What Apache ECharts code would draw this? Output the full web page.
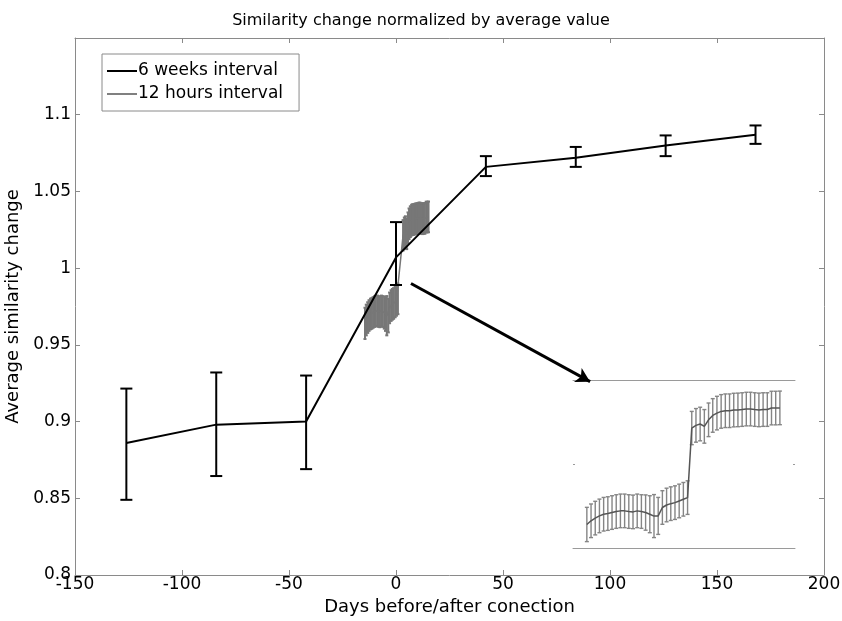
<!DOCTYPE html>
<html>
<head>
<meta charset="utf-8">
<script src="https://cdn.jsdelivr.net/npm/echarts@6/dist/echarts.min.js"></script>
<style>
html,body{margin:0;padding:0;background:#fff;}
#chart{width:842px;height:621px;}
</style>
</head>
<body>
<div id="chart"></div>
<script>
// ---- data ----
var titleText = 'Similarity change normalized by average value';
var xAxisName = 'Days before/after conection';
var yAxisName = 'Average similarity change';
var seriesNames = ['6 weeks interval', '12 hours interval'];

// 6 weeks interval
var weeksDays = [-126, -84, -42, 0, 42, 84, 126, 168];
var weeksMean = [0.886, 0.898, 0.900, 1.007, 1.066, 1.072, 1.080, 1.087];
var weeksLow  = [0.849, 0.8645, 0.869, 0.989, 1.060, 1.066, 1.073, 1.081];
var weeksHigh = [0.9215, 0.932, 0.930, 1.030, 1.073, 1.079, 1.0865, 1.093];

// 12 hours interval
var hoursDays = [-14.5, -13.9, -13.2, -12.6, -11.9, -11.3, -10.7, -10.0, -9.4, -8.7,
                 -8.1, -7.5, -6.8, -6.2, -5.5, -4.9, -4.3, -3.6, -3.0, -2.3,
                 -1.7, -1.1, -0.4, 0.2, 0.9,
                 3.3, 3.9, 4.4, 5.0, 5.6, 6.1, 6.7, 7.3, 7.8, 8.4,
                 9.0, 9.5, 10.1, 10.7, 11.2, 11.8, 12.4, 12.9, 13.5, 14.1,
                 14.6, 15.2];
var hoursMean = [0.9640, 0.9662, 0.9678, 0.9691, 0.9701, 0.9705, 0.9711, 0.9717, 0.9721, 0.9721,
                 0.9717, 0.9715, 0.9721, 0.9717, 0.9711, 0.9701, 0.9690, 0.9691, 0.9741, 0.9756,
                 0.9764, 0.9770, 0.9780, 0.9790, 0.9800,
                 1.0214, 1.0230, 1.0238, 1.0224, 1.0263, 1.0289, 1.0303, 1.0313, 1.0317, 1.0317,
                 1.0321, 1.0322, 1.0324, 1.0327, 1.0327, 1.0324, 1.0322, 1.0324, 1.0324, 1.0333,
                 1.0333, 1.0334];
var hoursErr  = [0.0102, 0.0100, 0.0100, 0.0100, 0.0100, 0.0100, 0.0100, 0.0100, 0.0100, 0.0100,
                 0.0100, 0.0100, 0.0100, 0.0100, 0.0105, 0.0110, 0.0128, 0.0110, 0.0100, 0.0100,
                 0.0100, 0.0100, 0.0100, 0.0100, 0.0100,
                 0.0099, 0.0100, 0.0100, 0.0100, 0.0100, 0.0100, 0.0100, 0.0100, 0.0100, 0.0100,
                 0.0100, 0.0100, 0.0100, 0.0100, 0.0100, 0.0100, 0.0100, 0.0100, 0.0100, 0.0100,
                 0.0100, 0.0100];

// axis ticks
var xMin = -150, xMax = 200, xStep = 50;
var yMin = 0.8, yMax = 1.15, yStep = 0.05;
var yLabelMax = 1.1;

// ---- build ----
var FONT = '"DejaVu Sans", "Liberation Sans", Arial, sans-serif';
var AX = '#8a8a8a';

var weeksLine = weeksDays.map(function (d, i) { return [d, weeksMean[i]]; });
var weeksBars = weeksDays.map(function (d, i) { return [d, weeksLow[i], weeksHigh[i]]; });
var hoursLine = hoursDays.map(function (d, i) { return [d, hoursMean[i]]; });
var hoursBars = hoursDays.map(function (d, i) { return [d, hoursMean[i] - hoursErr[i], hoursMean[i] + hoursErr[i]]; });
var insetLine = hoursMean.map(function (m, i) { return [i, m]; });
var insetBars = hoursMean.map(function (m, i) { return [i, m - hoursErr[i], m + hoursErr[i]]; });

function errRender(cap, color, lw) {
  return function (params, api) {
    var x = api.value(0);
    var a = api.coord([x, api.value(1)]);
    var b = api.coord([x, api.value(2)]);
    var st = { stroke: color, lineWidth: lw };
    return {
      type: 'group',
      children: [
        { type: 'line', shape: { x1: a[0], y1: a[1], x2: b[0], y2: b[1] }, style: st },
        { type: 'line', shape: { x1: a[0] - cap, y1: a[1], x2: a[0] + cap, y2: a[1] }, style: st },
        { type: 'line', shape: { x1: b[0] - cap, y1: b[1], x2: b[0] + cap, y2: b[1] }, style: st }
      ]
    };
  };
}

function yFmt(v) {
  if (v > yLabelMax + 1e-6) return '';
  return String(parseFloat(v.toFixed(3)));
}

var mainX = {
  type: 'value', gridIndex: 0, min: xMin, max: xMax, interval: xStep,
  axisLine: { show: true, onZero: false, lineStyle: { color: AX, width: 1 } },
  axisTick: { show: true, inside: true, length: 5, lineStyle: { color: AX } },
  splitLine: { show: false }
};
var mainY = {
  type: 'value', gridIndex: 0, min: yMin, max: yMax, interval: yStep,
  axisLine: { show: true, onZero: false, lineStyle: { color: AX, width: 1 } },
  axisTick: { show: true, inside: true, length: 5, lineStyle: { color: AX } },
  splitLine: { show: false }
};

var option = {
  animation: false,
  backgroundColor: '#ffffff',
  title: {
    text: titleText, left: 'center', top: 8,
    textStyle: { fontFamily: FONT, fontSize: 16, fontWeight: 'normal', color: '#000' }
  },
  legend: {
    data: [{ name: seriesNames[0], icon: 'rect' }, { name: seriesNames[1], icon: 'rect' }],
    orient: 'vertical',
    left: 102, top: 54,
    padding: [7, 16, 7, 5],
    itemGap: 3,
    itemWidth: 30, itemHeight: 2,
    borderColor: AX, borderWidth: 1,
    backgroundColor: '#fff',
    textStyle: { fontFamily: FONT, fontSize: 17, lineHeight: 20, color: '#000', padding: [0, 0, 0, -4] }
  },
  grid: [
    { left: 75, top: 38, width: 749, height: 537, containLabel: false, outerBoundsMode: 'none' },
    { left: 573, top: 380, width: 222, height: 168, containLabel: false, outerBoundsMode: 'none' }
  ],
  xAxis: [
    Object.assign({}, mainX, {
      position: 'bottom',
      name: xAxisName, nameLocation: 'middle', nameGap: 23,
      nameTextStyle: { fontFamily: FONT, fontSize: 18, color: '#000' },
      axisLabel: { show: true, margin: 1, fontFamily: FONT, fontSize: 17, color: '#000' }
    }),
    Object.assign({}, mainX, { position: 'top', axisLabel: { show: false } }),
    {
      type: 'value', gridIndex: 1, min: -3.3, max: 49.6, position: 'bottom',
      axisLine: { show: true, onZero: false, lineStyle: { color: '#9a9a9a' } },
      axisTick: { show: false }, axisLabel: { show: false }, splitLine: { show: false }
    },
    {
      type: 'value', gridIndex: 1, min: -3.3, max: 49.6, position: 'top',
      axisLine: { show: true, onZero: false, lineStyle: { color: '#9a9a9a' } },
      axisTick: { show: false }, axisLabel: { show: false }, splitLine: { show: false }
    }
  ],
  yAxis: [
    Object.assign({}, mainY, {
      position: 'left',
      name: yAxisName, nameLocation: 'middle', nameGap: 47, nameRotate: 90,
      nameTextStyle: { fontFamily: FONT, fontSize: 18, color: '#000' },
      axisLabel: { show: true, margin: 4, fontFamily: FONT, fontSize: 17, color: '#000', formatter: yFmt }
    }),
    Object.assign({}, mainY, { position: 'right', axisLabel: { show: false } }),
    {
      type: 'value', gridIndex: 1, min: 0.95, max: 1.05, interval: 0.05, position: 'left',
      axisLine: { show: false, onZero: false },
      axisTick: { show: true, inside: true, length: 2, lineStyle: { color: '#9a9a9a' } },
      axisLabel: { show: false }, splitLine: { show: false }
    },
    {
      type: 'value', gridIndex: 1, min: 0.95, max: 1.05, interval: 0.05, position: 'right',
      axisLine: { show: false, onZero: false },
      axisTick: { show: true, inside: true, length: 2, lineStyle: { color: '#9a9a9a' } },
      axisLabel: { show: false }, splitLine: { show: false }
    }
  ],
  series: [
    {
      name: seriesNames[1], type: 'line', xAxisIndex: 0, yAxisIndex: 0,
      data: hoursLine, symbol: 'none', z: 2,
      lineStyle: { color: '#777', width: 1.5 }, itemStyle: { color: '#808080' }
    },
    {
      type: 'custom', xAxisIndex: 0, yAxisIndex: 0, z: 2,
      data: hoursBars, renderItem: errRender(1.5, '#777', 2),
      encode: { x: 0, y: [1, 2] }
    },
    {
      name: seriesNames[0], type: 'line', xAxisIndex: 0, yAxisIndex: 0,
      data: weeksLine, symbol: 'none', z: 4,
      lineStyle: { color: '#000', width: 2 }, itemStyle: { color: '#000' },
      markLine: {
        silent: true, animation: false,
        symbol: ['none', 'arrow'], symbolSize: [12, 14],
        label: { show: false },
        lineStyle: { color: '#000', width: 3, type: 'solid' },
        data: [[{ coord: [7, 0.990] }, { coord: [90.7, 0.926] }]]
      }
    },
    {
      type: 'custom', xAxisIndex: 0, yAxisIndex: 0, z: 4,
      data: weeksBars, renderItem: errRender(6, '#000', 2),
      encode: { x: 0, y: [1, 2] }
    },
    {
      type: 'custom', xAxisIndex: 2, yAxisIndex: 2, z: 2,
      data: insetBars, renderItem: errRender(2, '#858585', 1.4),
      encode: { x: 0, y: [1, 2] }
    },
    {
      type: 'line', xAxisIndex: 2, yAxisIndex: 2, z: 3,
      data: insetLine, symbol: 'none',
      lineStyle: { color: '#555', width: 1.5 }
    }
  ]
};

var chart = echarts.init(document.getElementById('chart'), null, { renderer: 'canvas' });
chart.setOption(option);
</script>
</body>
</html>
